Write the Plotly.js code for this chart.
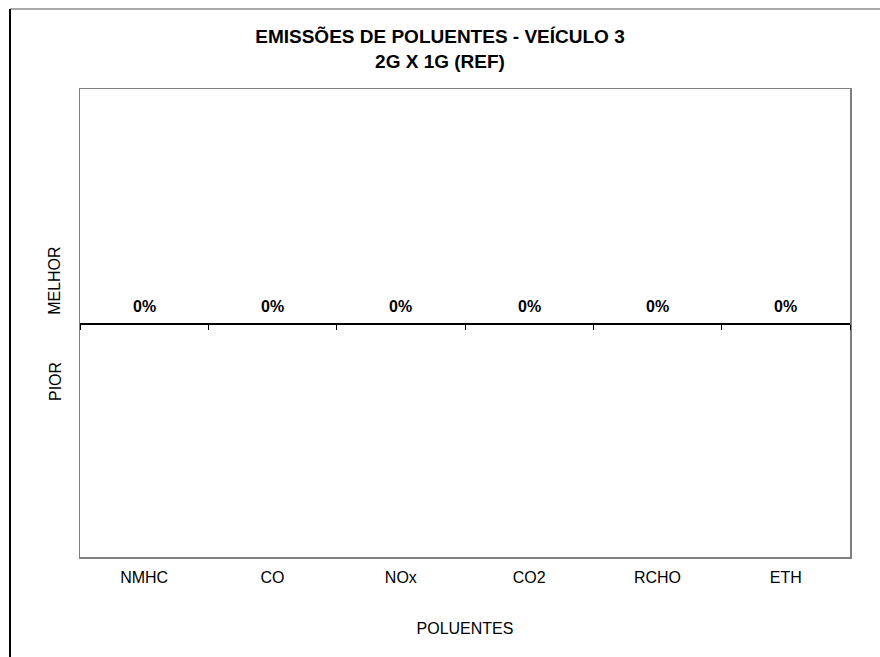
<!DOCTYPE html>
<html>
<head>
<meta charset="utf-8">
<script src="https://cdn.plot.ly/plotly-3.0.1.min.js"></script>
<style>html,body{margin:0;padding:0;background:#fff;}#chart{width:880px;height:657px;}</style>
</head>
<body>
<div id="chart"></div>
<script>
const categories = ["NMHC", "CO", "NOx", "CO2", "RCHO", "ETH"];
const values = [0, 0, 0, 0, 0, 0];
const valueLabels = values.map(v => Math.round(v * 100) + "%");
const titleLines = ["EMISSÕES DE POLUENTES - VEÍCULO 3", "2G X 1G (REF)"];
const xTitle = "POLUENTES";
const yLabelUp = "MELHOR";
const yLabelDown = "PIOR";

const FONT = "Liberation Sans, Arial, sans-serif";

const traces = [
  {
    type: "bar",
    x: categories,
    y: values,
    marker: {color: "#9999ff", line: {width: 0}},
    hoverinfo: "skip",
    showlegend: false
  },
  {
    type: "scatter",
    mode: "markers",
    x: categories,
    y: values,
    marker: {size: 0, opacity: 0},
    xaxis: "x2",
    yaxis: "y",
    hoverinfo: "skip",
    showlegend: false
  }
];

const valueAnnotations = categories.map((c, i) => ({
  text: "<b>" + valueLabels[i] + "</b>",
  xref: "x", yref: "y", x: c, y: values[i],
  yshift: 17, showarrow: false,
  font: {family: FONT, size: 16, color: "#000"},
  xanchor: "center", yanchor: "middle"
}));

const layout = {
  width: 880,
  height: 657,
  paper_bgcolor: "#fff",
  plot_bgcolor: "#fff",
  margin: {l: 80, r: 30, t: 89, b: 100},
  showlegend: false,
  font: {family: FONT, color: "#000"},
  title: {
    text: "<b>" + titleLines.join("<br>") + "</b>",
    font: {family: FONT, size: 19, color: "#000"},
    xref: "container", x: 0.5, xanchor: "center",
    yref: "container", y: 1 - 43 / 657, yanchor: "top"
  },
  xaxis: {
    type: "category",
    range: [-0.5, categories.length - 0.5],
    showline: true, mirror: true, linecolor: "#808080", linewidth: 1.5,
    showgrid: false, zeroline: false,
    ticks: "", ticklen: 0, ticklabelstandoff: 5,
    tickfont: {family: FONT, size: 16, color: "#000"},
    title: {text: xTitle, font: {family: FONT, size: 16, color: "#000"}, standoff: 38},
    fixedrange: true
  },
  xaxis2: {
    type: "category",
    overlaying: "x",
    matches: "x",
    anchor: "free",
    position: 0.5,
    side: "bottom",
    showline: true, linecolor: "#000", linewidth: 1.5,
    ticks: "outside", tickson: "boundaries", ticklen: 5, tickcolor: "#000", tickwidth: 1,
    showticklabels: false,
    showgrid: false, zeroline: false
  },
  yaxis: {
    range: [-1, 1],
    showline: true, mirror: true, linecolor: "#808080", linewidth: 1.5,
    showgrid: false, zeroline: false,
    showticklabels: false, ticks: "",
    fixedrange: true
  },
  annotations: valueAnnotations.concat([
    {text: yLabelUp, xref: "paper", yref: "paper", x: -0.0325, y: 0.59, textangle: -90,
     showarrow: false, font: {family: FONT, size: 16, color: "#000"}, xanchor: "center", yanchor: "middle"},
    {text: yLabelDown, xref: "paper", yref: "paper", x: -0.0325, y: 0.376, textangle: -90,
     showarrow: false, font: {family: FONT, size: 16, color: "#000"}, xanchor: "center", yanchor: "middle"}
  ]),
  shapes: [
    {type: "line", xref: "paper", yref: "paper", x0: (10 - 80) / 770, x1: (10 - 80) / 770,
     y0: 1 + (89 - 9) / 468, y1: -0.22, line: {color: "#000", width: 2}},
    {type: "line", xref: "paper", yref: "paper", x0: (10 - 80) / 770, x1: 1.05,
     y0: 1 + (89 - 9) / 468, y1: 1 + (89 - 9) / 468, line: {color: "#555", width: 1.2}}
  ]
};

Plotly.newPlot("chart", traces, layout, {displayModeBar: false, staticPlot: true});
</script>
</body>
</html>
